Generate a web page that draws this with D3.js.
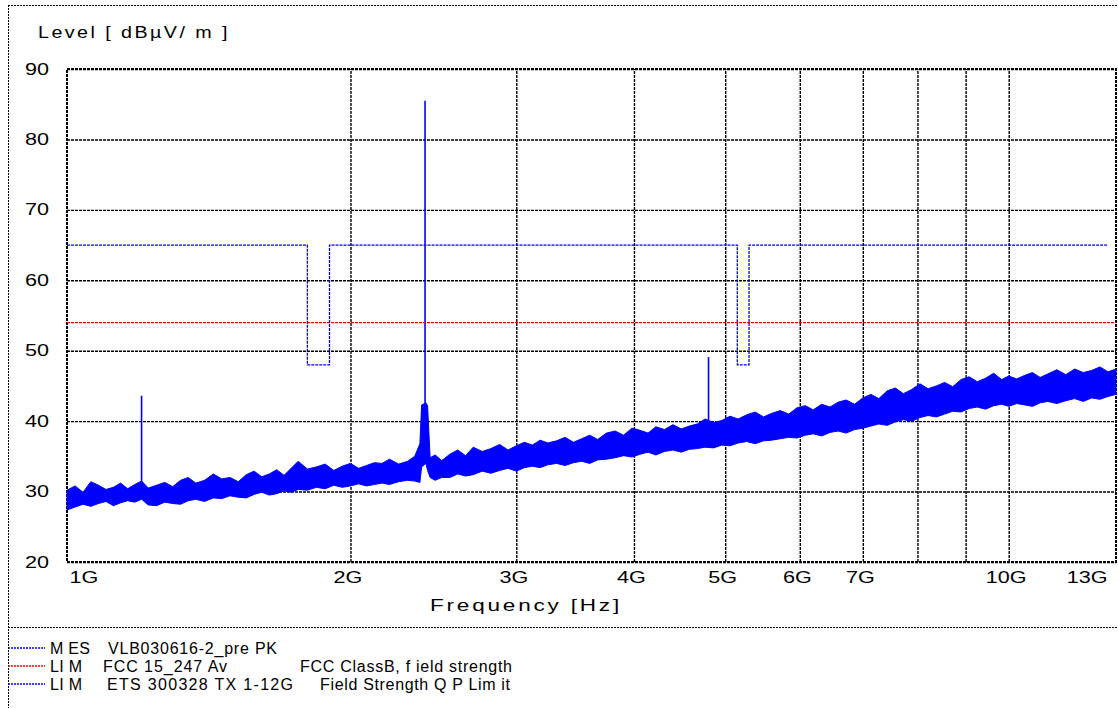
<!DOCTYPE html>
<html>
<head>
<meta charset="utf-8">
<title>Level vs Frequency</title>
<script src="https://cdn.jsdelivr.net/npm/d3@7"></script>
<style>
	body { margin: 0; background: #fff; }
	text { font-family: "Liberation Sans", Arial, sans-serif; font-size: 16px; fill: #000; }
</style>
</head>
<body>
<script>
// measured trace, frequencies in GHz, levels in dBuV/m
var freqs = [
	1.00, 1.02, 1.04, 1.06, 1.08, 1.10, 1.12, 1.14, 1.16, 1.18,
	1.20, 1.22, 1.245, 1.27, 1.295, 1.32, 1.345, 1.37, 1.40, 1.43,
	1.46, 1.49, 1.52, 1.55, 1.58, 1.61, 1.64, 1.67, 1.70, 1.73,
	1.76, 1.80, 1.84, 1.88, 1.92, 1.96, 2.00, 2.04, 2.08, 2.12,
	2.16, 2.20, 2.25, 2.30, 2.34, 2.37, 2.38, 2.405, 2.415, 2.43, 2.46, 2.50,
	2.55, 2.60, 2.65, 2.70, 2.76, 2.82, 2.88, 2.94, 3.00, 3.06,
	3.12, 3.18, 3.24, 3.31, 3.38, 3.45, 3.52, 3.59, 3.66, 3.74,
	3.82, 3.90, 3.98, 4.06, 4.14, 4.22, 4.31, 4.40, 4.49, 4.58,
	4.67, 4.76, 4.86, 4.96, 5.06, 5.16, 5.27, 5.38, 5.49, 5.60,
	5.72, 5.84, 5.96, 6.08, 6.20, 6.33, 6.46, 6.59, 6.72, 6.86,
	7.00, 7.14, 7.28, 7.43, 7.58, 7.73, 7.89, 8.05, 8.21, 8.38,
	8.55, 8.72, 8.90, 9.08, 9.26, 9.45, 9.64, 9.83, 10.0, 10.2,
	10.4, 10.6, 10.8, 11.0, 11.25, 11.5, 11.75, 12.0, 12.25, 12.5,
	12.75, 13.0
];
var floorHigh = [
	30.2, 30.8, 29.9, 31.4, 30.9, 30.3, 30.6, 31.2, 30.4, 31.0,
	31.5, 30.5, 30.9, 31.3, 30.7, 31.6, 32.0, 31.2, 31.6, 32.5,
	31.8, 32.0, 31.4, 32.4, 32.9, 32.1, 32.5, 33.1, 32.3, 33.3,
	34.3, 33.2, 33.5, 33.9, 33.0, 33.6, 34.0, 33.3, 33.7, 34.1,
	34.0, 34.6, 33.9, 34.3, 35.0, 36.8, 42.3, 42.6, 42.2, 34.8, 35.2, 34.4,
	35.3, 35.9, 35.1, 36.3, 35.7, 36.1, 36.7, 35.9, 36.5, 37.0,
	36.6, 37.3, 36.9, 37.2, 37.7, 37.0, 37.5, 38.0, 37.4, 38.3,
	38.6, 38.0, 39.0, 38.7, 38.3, 39.2, 38.8, 39.5, 38.9, 39.3,
	39.6, 40.3, 39.8, 40.1, 40.7, 40.3, 40.9, 41.3, 40.6, 41.1,
	41.5, 41.0, 41.9, 42.2, 41.6, 42.4, 42.0, 42.7, 43.0, 42.4,
	43.3, 43.8, 43.2, 44.3, 44.7, 43.9, 44.5, 45.3, 44.6, 45.0,
	45.5, 44.9, 45.9, 46.3, 45.6, 46.1, 46.8, 45.9, 46.4, 46.0,
	46.5, 46.9, 46.2, 46.7, 47.3, 46.6, 47.4, 46.9, 47.2, 47.7,
	47.0, 47.4
];
var floorLow = [
	27.4, 27.8, 28.2, 27.9, 28.3, 28.6, 28.0, 28.4, 28.7, 28.5,
	28.9, 28.1, 28.0, 28.5, 28.3, 28.2, 28.7, 28.9, 28.6, 29.1,
	29.0, 29.4, 29.2, 29.1, 29.6, 29.9, 29.5, 29.7, 30.1, 29.9,
	30.3, 30.2, 30.6, 30.4, 30.9, 30.6, 30.8, 31.1, 30.8, 31.0,
	31.2, 31.0, 31.4, 31.6, 31.5, 31.3, 33.5, 34.0, 33.0, 32.0, 31.6, 32.0,
	32.0, 32.5, 32.2, 32.4, 32.9, 32.6, 33.0, 33.3, 32.9, 33.4,
	33.6, 33.4, 33.8, 34.0, 33.7, 34.1, 34.3, 34.0, 34.5, 34.6,
	34.8, 35.1, 34.9, 35.3, 35.6, 35.2, 35.7, 35.9, 35.6, 36.0,
	36.1, 36.3, 36.2, 36.6, 36.5, 36.9, 37.1, 36.8, 37.2, 37.3,
	37.5, 37.7, 37.6, 38.0, 38.2, 37.9, 38.4, 38.6, 38.3, 38.8,
	39.0, 39.3, 39.6, 39.4, 39.9, 40.2, 40.0, 40.5, 40.8, 40.6,
	41.0, 41.4, 41.3, 41.8, 42.0, 41.7, 42.2, 42.4, 42.1, 42.5,
	42.3, 42.1, 42.6, 42.8, 42.5, 42.9, 43.2, 42.8, 43.3, 43.1,
	43.5, 43.8
];
// narrow emissions on top of the noise floor
var spikeFreqs = [1.2, 2.4, 4.8];
var spikeBase = [30.0, 42.0, 39.0];
var spikePeak = [43.6, 85.5, 49.1];

// limit lines
var fccFreqs = [1, 13];
var fccLevels = [54, 54];
var etsFreqs = [1, 1.8, 1.8, 1.9, 1.9, 5.15, 5.15, 5.3, 5.3, 12.75];
var etsLevels = [65, 65, 48, 48, 65, 65, 48, 48, 65, 65];

// axes
var levelTicks = [20, 30, 40, 50, 60, 70, 80, 90];
var freqGrid = [2, 3, 4, 5, 6, 7, 8, 9, 10];
var freqTicks = [1, 2, 3, 4, 5, 6, 7, 10, 13];
var freqTickLabels = ["1G", "2G", "3G", "4G", "5G", "6G", "7G", "10G", "13G"];

// legend
var legendKeys = ["M ES", "LI M", "LI M"];
var legendNames = ["VLB030616-2_pre  PK", "FCC 15_247 Av", "ETS 300328 TX 1-12G"];
var legendNotes = ["", "FCC ClassB,  f ield strength", "Field Strength  Q P Lim it"];
var legendColors = ["#0000ff", "#ff0000", "#0000ff"];

var width = 1118;
var height = 708;
var plot = {left: 67, right: 1116, top: 69, bottom: 562};

var svg = d3.select("body")
	.append("svg")
	.attr("width", width)
	.attr("height", height);

var xScale = d3.scaleLog()
	.domain([1, 13])
	.range([plot.left, plot.right]);

var yScale = d3.scaleLinear()
	.domain([20, 90])
	.range([plot.bottom, plot.top]);

// outer frame and legend separator
var frame = svg.append("g")
	.attr("stroke", "#000")
	.attr("stroke-width", 1)
	.attr("stroke-dasharray", "2,1");
frame.append("line").attr("x1", 8).attr("y1", 5.5).attr("x2", width).attr("y2", 5.5);
frame.append("line").attr("x1", 8.5).attr("y1", 5).attr("x2", 8.5).attr("y2", height);
frame.append("line").attr("x1", 8).attr("y1", 627.5).attr("x2", width).attr("y2", 627.5);

// widen a text to a factor of its natural width
function stretch(sel, k) {
	sel.each(function() {
		var w = this.getComputedTextLength();
		d3.select(this).attr("textLength", w * k).attr("lengthAdjust", "spacingAndGlyphs");
	});
}

// horizontal grid + level labels
var yAxis = d3.axisLeft(yScale)
	.tickValues(levelTicks)
	.tickSize(-(plot.right - plot.left))
	.tickPadding(18);
var gy = svg.append("g")
	.attr("transform", "translate(" + plot.left + ",0)")
	.call(yAxis);
gy.select(".domain").remove();
gy.selectAll("line")
	.attr("stroke", "#000")
	.attr("stroke-width", 1.4)
	.attr("stroke-dasharray", "3,1");
gy.selectAll("text")
	.attr("font-size", null)
	.attr("font-family", null)
	.call(stretch, 1.35);

// vertical grid
var gx = svg.append("g")
	.attr("transform", "translate(0," + plot.bottom + ")")
	.call(d3.axisBottom(xScale).tickValues(freqGrid).tickSize(-(plot.bottom - plot.top)).tickFormat(""));
gx.select(".domain").remove();
gx.selectAll("line")
	.attr("stroke", "#000")
	.attr("stroke-width", 1.4)
	.attr("stroke-dasharray", "3,1");

// frequency labels
var gl = svg.append("g")
	.attr("transform", "translate(0," + plot.bottom + ")")
	.call(d3.axisBottom(xScale).tickValues(freqTicks).tickSize(0).tickPadding(10)
		.tickFormat(function(d, i) { return freqTickLabels[i]; }));
gl.select(".domain").remove();
gl.selectAll("text")
	.attr("font-size", null)
	.attr("font-family", null)
	.attr("dx", -3)
	.call(stretch, 1.35);
gl.selectAll("text")
	.filter(function(d) { return d === 1; })
	.attr("text-anchor", "start")
	.attr("dx", 2);
gl.selectAll("text")
	.filter(function(d) { return d === 13; })
	.attr("text-anchor", "end")
	.attr("dx", -9);

// plot border
svg.append("rect")
	.attr("x", plot.left)
	.attr("y", plot.top)
	.attr("width", plot.right - plot.left)
	.attr("height", plot.bottom - plot.top)
	.attr("fill", "none")
	.attr("stroke", "#000")
	.attr("stroke-width", 2)
	.attr("stroke-dasharray", "3,1");

// axis titles: a little letter spacing, the rest by widening the glyphs
svg.append("text")
	.attr("x", 38)
	.attr("y", 38)
	.attr("letter-spacing", 2)
	.attr("textLength", 192)
	.attr("lengthAdjust", "spacingAndGlyphs")
	.text("Level [ dBµV/ m ]");
svg.append("text")
	.attr("x", 430)
	.attr("y", 611)
	.attr("letter-spacing", 2)
	.attr("textLength", 192)
	.attr("lengthAdjust", "spacingAndGlyphs")
	.text("Frequency  [Hz]");

// measured noise floor
var floor = freqs.map(function(f, i) { return {f: f, lo: floorLow[i], hi: floorHigh[i]}; });
svg.append("path")
	.datum(floor)
	.attr("fill", "#0000ff")
	.attr("stroke", "#0000ff")
	.attr("stroke-width", 1)
	.attr("d", d3.area()
		.x(function(d) { return xScale(d.f); })
		.y0(function(d) { return yScale(d.lo); })
		.y1(function(d) { return yScale(d.hi); }));

svg.selectAll(".spike")
	.data(spikeFreqs)
	.enter()
	.append("line")
	.attr("class", "spike")
	.attr("x1", function(d) { return xScale(d); })
	.attr("x2", function(d) { return xScale(d); })
	.attr("y1", function(d, i) { return yScale(spikeBase[i]); })
	.attr("y2", function(d, i) { return yScale(spikePeak[i]); })
	.attr("stroke", "#0000ff")
	.attr("stroke-width", 1.6);

// limit lines
var limLine = d3.line()
	.x(function(d) { return xScale(d[0]); })
	.y(function(d) { return yScale(d[1]); });

svg.append("path")
	.datum(fccFreqs.map(function(f, i) { return [f, fccLevels[i]]; }))
	.attr("fill", "none")
	.attr("stroke", "#ff0000")
	.attr("stroke-width", 1.3)
	.attr("stroke-dasharray", "3,1")
	.attr("d", limLine);

svg.append("path")
	.datum(etsFreqs.map(function(f, i) { return [f, etsLevels[i]]; }))
	.attr("fill", "none")
	.attr("stroke", "#0000ff")
	.attr("stroke-width", 1.3)
	.attr("stroke-dasharray", "3,1")
	.attr("d", limLine);

// legend rows
var rowY = [648, 666, 684];
var keyW = [40, 32, 32];
var nameX = [108, 103, 107];
var nameW = [169, 124, 186];
var noteX = [0, 300, 320];
var noteW = [0, 212, 190];

var legend = svg.selectAll(".legend")
	.data(legendKeys)
	.enter()
	.append("g")
	.attr("class", "legend")
	.attr("transform", function(d, i) { return "translate(0," + rowY[i] + ")"; });

legend.append("line")
	.attr("x1", 8)
	.attr("x2", 45)
	.attr("stroke", function(d, i) { return legendColors[i]; })
	.attr("stroke-width", 1.3)
	.attr("stroke-dasharray", "2,1");

legend.append("text")
	.attr("x", 50)
	.attr("y", 6)
	.attr("textLength", function(d, i) { return keyW[i]; })
	.attr("lengthAdjust", "spacing")
	.text(function(d) { return d; });

legend.append("text")
	.attr("x", function(d, i) { return nameX[i]; })
	.attr("y", 6)
	.attr("textLength", function(d, i) { return nameW[i]; })
	.attr("lengthAdjust", "spacing")
	.text(function(d, i) { return legendNames[i]; });

legend.each(function(d, i) {
	if (legendNotes[i] === "") return;
	d3.select(this).append("text")
		.attr("x", noteX[i])
		.attr("y", 6)
		.attr("textLength", noteW[i])
		.attr("lengthAdjust", "spacing")
		.text(legendNotes[i]);
});
</script>
</body>
</html>
